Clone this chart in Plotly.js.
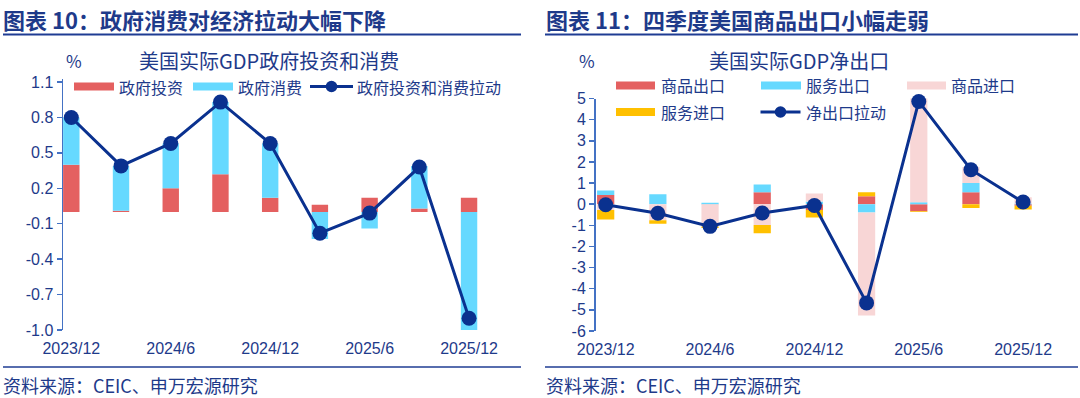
<!DOCTYPE html>
<html><head><meta charset="utf-8">
<script src="https://cdn.plot.ly/plotly-3.0.1.min.js"></script>
<style>html,body{margin:0;padding:0;background:#fff;}#chart{width:1080px;height:398px;}</style>
</head><body><div id="chart"></div>
<script>
// ---------- data ----------
const quarters = ['2023/12','2024/3','2024/6','2024/9','2024/12','2025/3','2025/6','2025/9','2025/12'];
const xTickLabels = ['2023/12','2024/6','2024/12','2025/6','2025/12'];

// left chart: 美国实际GDP政府投资和消费 (%)
const govInvestment  = [0.40, 0.01, 0.20, 0.32, 0.12, 0.06, 0.12, 0.03, 0.12];
const govConsumption = [0.40, 0.38, 0.38, 0.61, 0.46, -0.23, -0.14, 0.36, -1.00];
const govTotal       = [0.80, 0.39, 0.58, 0.93, 0.58, -0.18, -0.01, 0.38, -0.90];
const leftYTicks     = [-1.0, -0.7, -0.4, -0.1, 0.2, 0.5, 0.8, 1.1];
const leftYTickText  = ['-1.0','-0.7','-0.4','-0.1','0.2','0.5','0.8','1.1'];

// right chart: 美国实际GDP净出口 (%)
const goodsExports    = [0.43, 0.00, -0.01, 0.56, -0.28, 0.38, -0.34, 0.57, -0.08];
const servicesExports = [0.22, 0.47, 0.07, 0.37, 0.13, -0.39, 0.09, 0.43, 0.03];
const goodsImports    = [-0.28, -0.76, -1.05, -0.98, 0.37, -4.88, 4.94, 0.76, 0.30];
const servicesImports = [-0.45, -0.16, -0.07, -0.40, -0.35, 0.19, -0.03, -0.18, -0.17];
const netExports      = [-0.03, -0.43, -1.05, -0.42, -0.06, -4.67, 4.86, 1.63, 0.10];
const rightYTicks     = [-6,-5,-4,-3,-2,-1,0,1,2,3,4,5];
const rightYTickText  = ['-6','-5','-4','-3','-2','-1','0','1','2','3','4','5'];

// ---------- styling ----------
const W = 1080, H = 398;
const px = x => x / W;
const py = y => 1 - y / H;
const TXT = '#1E3A8A';
const AX = '#4472C4';
const LINEC = '#0A318F';
const RED = '#E46060', CYAN = '#66D9FF', PINK = '#F8D6D6', YEL = '#FFC000';
const CJK = '"Noto Sans CJK SC", "Noto Sans", sans-serif';
const NUM = '"Liberation Sans", Arial, sans-serif';
const BAR_W = 0.33;

const L = {x0: 63, x1: 478, yTop: 78.5, yBot: 330, rng: [-0.167, 8.18], yr: [-1.0, 1.13]};
const R = {x0: 595.5, x1: 1032, yTop: 98.5, yBot: 331, rng: [-0.195, 8.17], yr: [-6, 5]};
function zeroFrac(p){ const d0 = py(p.yBot), d1 = py(p.yTop); return d0 + (0 - p.yr[0])/(p.yr[1]-p.yr[0])*(d1-d0); }
const tickIdx = xTickLabels.map(l => quarters.indexOf(l));
const edgeTicks = tickIdx.map(i => i - BAR_W/2);

function bar(name, y, color, xa, ya){
  return {type:'bar', name, x: quarters, y, xaxis: xa, yaxis: ya, width: BAR_W,
    marker:{color, line:{width:0}}, showlegend:false, hoverinfo:'x+y+name'};
}
function line(name, y, xa, ya){
  return {type:'scatter', mode:'lines+markers', name, x: quarters, y, xaxis: xa, yaxis: ya, cliponaxis:false,
    line:{color:LINEC, width:3}, marker:{color:LINEC, size:15}, showlegend:false};
}

const traces = [
  bar('政府投资', govInvestment, RED, 'x', 'y'),
  bar('政府消费', govConsumption, CYAN, 'x', 'y'),
  line('政府投资和消费拉动', govTotal, 'x', 'y'),
  bar('商品出口', goodsExports, RED, 'x3', 'y2'),
  bar('服务出口', servicesExports, CYAN, 'x3', 'y2'),
  bar('商品进口', goodsImports, PINK, 'x3', 'y2'),
  bar('服务进口', servicesImports, YEL, 'x3', 'y2'),
  line('净出口拉动', netExports, 'x3', 'y2'),
];

function catAxis(p, anchor){
  return {domain:[px(p.x0), px(p.x1)], anchor, type:'category', range:p.rng,
    showline:false, showgrid:false, zeroline:false, ticks:'', tickvals: xTickLabels, ticktext: xTickLabels,
    ticklabelstandoff: 7, tickfont:{family:NUM, size:16, color:TXT}, fixedrange:true};
}
function zeroAxis(p, over){
  return {overlaying: over, anchor:'free', position: zeroFrac(p), type:'linear', range:p.rng,
    showline:true, linecolor:AX, linewidth:1.5, ticks:'outside', ticklen:4, tickwidth:1.5, tickcolor:AX,
    tickvals: edgeTicks, showticklabels:false, showgrid:false, zeroline:false, layer:'above traces'};
}
function valAxis(p, anchor, tv, tt){
  return {domain:[py(p.yBot), py(p.yTop)], anchor, range:p.yr, showline:true, linecolor:AX, linewidth:1.5,
    ticks:'outside', ticklen:5, tickwidth:1.5, tickcolor:AX, tickvals:tv, ticktext:tt, showgrid:false, zeroline:false,
    tickfont:{family:NUM, size:16, color:TXT}};
}

const ann = [];
function text(t, x, y, size, anchor, bold){
  ann.push({text: bold ? '<b>'+t+'</b>' : t, xref:'paper', yref:'paper', x:px(x), y:py(y), xanchor:anchor||'left', yanchor:'middle',
    showarrow:false, borderpad:0, font:{family:CJK, size, color:TXT}});
}
const shapes = [];
function hline(x0, x1, y, w, c){ shapes.push({type:'line', xref:'paper', yref:'paper', x0:px(x0), x1:px(x1), y0:py(y), y1:py(y), line:{color:c, width:w}}); }
function swatch(x0, x1, y, c){ shapes.push({type:'rect', xref:'paper', yref:'paper', x0:px(x0), x1:px(x1), y0:py(y+4), y1:py(y-4), fillcolor:c, line:{width:0}}); }
function lineSym(x0, x1, y){
  hline(x0, x1, y, 3, LINEC);
  const cx = (x0+x1)/2, r = 5.8;
  shapes.push({type:'circle', xref:'paper', yref:'paper', x0:px(cx-r), x1:px(cx+r), y0:py(y+r), y1:py(y-r), fillcolor:LINEC, line:{width:0}});
}

// titles
text('图表 10：政府消费对经济拉动大幅下降', 2, 19, 22, 'left', true);
text('图表 11：四季度美国商品出口小幅走弱', 545, 19, 22, 'left', true);
hline(3, 521, 34.4, 2, '#1F3C93');
hline(545, 1078, 34.4, 2, '#1F3C93');
// subtitles and units
text('美国实际GDP政府投资和消费', 269, 60.5, 20, 'center');
text('美国实际GDP净出口', 799, 60.5, 20, 'center');
text('%', 74, 60.5, 17, 'center');
text('%', 586.5, 60.5, 17, 'center');
// left legend
swatch(74, 114, 86.5, RED);   text('政府投资', 118, 86.5, 16);
swatch(193, 233, 86.5, CYAN); text('政府消费', 237, 86.5, 16);
lineSym(310, 353, 86.5);      text('政府投资和消费拉动', 356, 86.5, 16);
// right legend
swatch(616, 655, 85.5, RED);  text('商品出口', 659.5, 85.5, 16);
swatch(761, 801, 85.5, CYAN); text('服务出口', 805, 85.5, 16);
swatch(907, 946, 85.5, PINK); text('商品进口', 950, 85.5, 16);
swatch(616, 655, 112, YEL);   text('服务进口', 659.5, 112, 16);
lineSym(760.5, 800.5, 112);   text('净出口拉动', 805, 112, 16);
// source lines
hline(3, 521, 367, 1.5, '#1F3C93');
hline(545, 1078, 367, 1.5, '#1F3C93');
text('资料来源：CEIC、申万宏源研究', 2, 384.5, 18);
text('资料来源：CEIC、申万宏源研究', 545, 384.5, 18);

const layout = {
  width: W, height: H, autosize:false, margin:{l:0, r:0, t:0, b:0, pad:0},
  paper_bgcolor:'#fff', plot_bgcolor:'rgba(0,0,0,0)', barmode:'relative', showlegend:false,
  font:{family:CJK, color:TXT},
  xaxis: catAxis(L, 'y'),
  xaxis2: zeroAxis(L, 'x'),
  yaxis: valAxis(L, 'x', leftYTicks, leftYTickText),
  xaxis3: catAxis(R, 'y2'),
  xaxis4: zeroAxis(R, 'x3'),
  yaxis2: valAxis(R, 'x3', rightYTicks, rightYTickText),
  annotations: ann, shapes: shapes,
};
Plotly.newPlot('chart', traces, layout, {displayModeBar:false, staticPlot:true});
</script></body></html>
